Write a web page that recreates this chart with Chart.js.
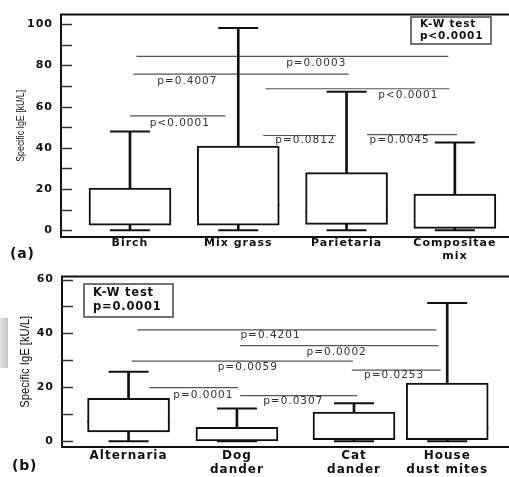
<!DOCTYPE html>
<html lang="en">
  <head>
    <meta charset="UTF-8" />
    <title>Specific IgE box plots</title>
    <style>
      body { margin: 0; background: #fff; }
      .panel { position: absolute; left: 0; }
      #mark { position: absolute; left: 0; top: 318px; width: 8px; height: 50px;
              background: linear-gradient(to right, #e4e4e4, #c4c4c4); }
    </style>
  </head>
  <body>
    <canvas id="chartA" class="panel" style="top:0" width="509" height="262"></canvas>
    <canvas id="chartB" class="panel" style="top:262px" width="509" height="215"></canvas>
    <div id="mark"></div>
    <script src="https://cdn.jsdelivr.net/npm/chart.js"></script>
    <script>
      // (a) pollen
      const catsA = ["Birch", "Mix grass", "Parietaria", ["Compositae", "mix"]];
      const posA = [1, 2, 3, 4];
      const minA = [0, 0, 0, 0];
      const q1A = [2.4, 2.4, 2.8, 0.9];
      const medA = [8.6, 12.3, 8.6, 4.3];
      const q3A = [20.4, 40.8, 28, 17.6];
      const maxA = [47.9, 98.2, 67.2, 42.6];
      const yTicksA = [0, 10, 20, 30, 40, 50, 60, 70, 80, 90, 100];
      // pairwise comparisons: line start / end (category units), height, p text
      const sigFromA = [1.06, 1.03, 2.25, 1.0, 2.23, 3.19];
      const sigToA = [3.94, 3.02, 3.95, 1.88, 2.9, 4.02];
      const sigYA = [84.4, 75.8, 68.7, 55.5, 46, 46.4];
      const sigTextA = ["p=0.0003", "p=0.4007", "p<0.0001", "p<0.0001", "p=0.0812", "p=0.0045"];
      const kwA = ["K-W test", "p<0.0001"];

      // (b) animals / mould / mites
      const catsB = ["Alternaria", ["Dog", "dander"], ["Cat", "dander"], ["House", "dust mites"]];
      const posB = [1, 2.0, 3.08, 3.94];
      const minB = [0, 0, 0, 0];
      const q1B = [3.4, 0.1, 0.6, 0.6];
      const medB = [7.1, 0.5, 1.9, 4.8];
      const q3B = [15.9, 5.1, 10.8, 21.6];
      const maxB = [25.8, 12.1, 14.1, 51.3];
      const yTicksB = [0, 10, 20, 30, 40, 50, 60];
      const sigFromB = [1.08, 2.03, 1.03, 3.06, 1.19, 2.03];
      const sigToB = [3.84, 3.86, 3.07, 3.88, 2.01, 3.11];
      const sigYB = [41.3, 35.5, 29.7, 26.4, 19.9, 16.9];
      const sigTextB = ["p=0.4201", "p=0.0002", "p=0.0059", "p=0.0253", "p=0.0001", "p=0.0307"];
      const kwB = ["K-W test", "p=0.0001"];

      // where the p texts sit (x in category units, y in kU/L)
      const pAtA = [[2.72, 81], [1.53, 72.5], [3.57, 65.4], [1.46, 52.1], [2.62, 43.6], [3.49, 43.6]];
      const pAtB = [[2.31, 39.3], [2.92, 33.1], [2.1, 27.3], [3.45, 24.4], [1.69, 16.9], [2.52, 14.7]];

      const panelPlugin = {
        id: "panel",
        beforeDraw(chart) {
          chart.ctx.letterSpacing = "1px";
        },
        afterDatasetsDraw(chart, args, o) {
          const { ctx, chartArea: a } = chart;
          const x = chart.scales.x, y = chart.scales.y;
          ctx.save();
          // frame (no right side)
          ctx.strokeStyle = "#111";
          ctx.lineWidth = 2;
          ctx.beginPath();
          ctx.moveTo(a.right, a.top);
          ctx.lineTo(a.left, a.top);
          ctx.lineTo(a.left, a.bottom);
          ctx.lineTo(a.right, a.bottom);
          ctx.stroke();
          // tick marks pointing inside
          ctx.lineWidth = 1.5;
          ctx.strokeStyle = "#333";
          y.ticks.forEach((t) => {
            const py = Math.round(y.getPixelForValue(t.value)) + 0.5;
            ctx.beginPath();
            ctx.moveTo(a.left, py);
            ctx.lineTo(a.left + 11, py);
            ctx.stroke();
          });
          // p values
          ctx.fillStyle = "#333";
          ctx.font = '10.5px "DejaVu Sans"';
          ctx.textAlign = "center";
          ctx.textBaseline = "middle";
          ctx.letterSpacing = "1px";
          o.pText.forEach((s, i) => {
            ctx.fillText(s, x.getPixelForValue(o.pAt[i][0]), y.getPixelForValue(o.pAt[i][1]));
          });
          // K-W box
          const k = o.kwBox;
          ctx.strokeStyle = "#444";
          ctx.lineWidth = 1.5;
          ctx.strokeRect(k[0], k[1], k[2], k[3]);
          ctx.fillStyle = "#111";
          ctx.font = 'bold ' + o.kwSize + 'px "DejaVu Sans"';
          ctx.textAlign = "left";
          ctx.letterSpacing = "0.8px";
          ctx.fillText(o.kw[0], k[0] + o.kwPad, k[1] + k[3] * 0.27);
          ctx.fillText(o.kw[1], k[0] + o.kwPad, k[1] + k[3] * 0.71);
          // panel letter
          ctx.font = 'bold 14px "DejaVu Sans"';
          ctx.fillText(o.letter, o.letterAt[0], o.letterAt[1]);
          // y title, squeezed to a narrow face
          const title = "Specific IgE [kU/L]";
          ctx.translate(o.titleX, (a.top + a.bottom) / 2);
          ctx.rotate(-Math.PI / 2);
          ctx.textAlign = "center";
          ctx.letterSpacing = "0px";
          ctx.font = o.titleSize + 'px "Liberation Sans", sans-serif';
          const w = ctx.measureText(title).width;
          ctx.scale(o.titleLen / w, 1);
          ctx.fillText(title, 0, 0);
          ctx.restore();
        },
      };

      function makePanel(id, d) {
        const box = d.pos.map((p, i) => ({ x: p, y: [d.q1[i], d.q3[i]] }));
        const upper = d.pos.map((p, i) => ({ x: p, y: [d.q3[i], d.max[i]] }));
        const lower = d.pos.map((p, i) => ({ x: p, y: [d.min[i], d.q1[i]] }));
        const med = d.pos.map((p, i) => ({ x: p, y: d.med[i] }));
        const caps = d.pos.map((p, i) => ({ x: p, y: d.max[i] }))
          .concat(d.pos.map((p, i) => ({ x: p, y: d.min[i] })));
        const sig = d.sigFrom.map((f, i) => ({
          type: "line",
          data: [{ x: f, y: d.sigY[i] }, { x: d.sigTo[i], y: d.sigY[i] }],
          borderColor: "#555",
          borderWidth: 1.2,
          pointRadius: 0,
        }));
        const whisker = { type: "bar", grouped: false, barThickness: 2, backgroundColor: "#111", borderWidth: 0 };

        return new Chart(document.getElementById(id), {
          type: "bar",
          data: {
            datasets: [
              { ...whisker, data: upper },
              { ...whisker, data: lower },
              {
                type: "bar", data: box, grouped: false, barThickness: 82,
                backgroundColor: "#fff", borderColor: "#111", borderWidth: 2, borderSkipped: false,
              },
              {
                type: "scatter", data: med, pointStyle: "line", pointRadius: 41,
                borderColor: "#111", borderWidth: 2, clip: false,
              },
              {
                type: "scatter", data: caps, pointStyle: "line", pointRadius: 20,
                borderColor: "#111", borderWidth: 2, clip: false,
              },
              ...sig,
            ],
          },
          options: {
            responsive: false,
            animation: false,
            events: [],
            devicePixelRatio: 1,
            layout: { autoPadding: false, padding: { top: 9, left: 0, right: 0, bottom: 0 } },
            plugins: {
              legend: { display: false },
              tooltip: { enabled: false },
              panel: d.panel,
            },
            scales: {
              x: {
                type: "linear",
                offset: false,
                min: d.xMin,
                max: d.xMax,
                grid: { display: false, drawTicks: false },
                border: { display: false },
                afterBuildTicks: (s) => { s.ticks = d.pos.map((v) => ({ value: v })); },
                afterFit: (s) => { s.height = d.xHeight; },
                ticks: {
                  autoSkip: false,
                  maxRotation: 0,
                  padding: d.xPad,
                  color: "#111",
                  font: { family: "DejaVu Sans", weight: "bold", size: d.xFont, lineHeight: 1.15 },
                  callback: (v, i) => d.cats[i],
                },
              },
              y: {
                min: d.yMin,
                max: d.yMax,
                grid: { display: false, drawTicks: false },
                border: { display: false },
                afterBuildTicks: (s) => { s.ticks = d.yTicks.map((v) => ({ value: v })); },
                afterFit: (s) => { s.width = d.yWidth; },
                ticks: {
                  padding: 8,
                  color: "#111",
                  font: { family: "DejaVu Sans", weight: "bold", size: 11 },
                  callback: (v) => (v % 20 === 0 ? v : ""),
                },
              },
            },
          },
          plugins: [panelPlugin],
        });
      }

      makePanel("chartA", {
        cats: catsA, pos: posA, min: minA, q1: q1A, med: medA, q3: q3A, max: maxA,
        yTicks: yTicksA, sigFrom: sigFromA, sigTo: sigToA, sigY: sigYA,
        xMin: 0.363, xMax: 4.5, yMin: -3.3, yMax: 104.7,
        xHeight: 25, yWidth: 61, xPad: 0, xFont: 11,
        panel: {
          pText: sigTextA, pAt: pAtA, kw: kwA, kwBox: [411, 17, 80, 27], kwSize: 10.5, kwPad: 9,
          letter: "(a)", letterAt: [10, 254], titleX: 21, titleSize: 11, titleLen: 72,
        },
      });

      makePanel("chartB", {
        cats: catsB, pos: posB, min: minB, q1: q1B, med: medB, q3: q3B, max: maxB,
        yTicks: yTicksB, sigFrom: sigFromB, sigTo: sigToB, sigY: sigYB,
        xMin: 0.386, xMax: 4.51, yMin: -2.16, yMax: 61.1,
        xHeight: 30, yWidth: 62, xPad: 2, xFont: 12,
        panel: {
          pText: sigTextB, pAt: pAtB, kw: kwB, kwBox: [84, 22, 89, 33], kwSize: 11.5, kwPad: 9,
          letter: "(b)", letterAt: [12, 204], titleX: 25, titleSize: 13.5, titleLen: 92,
        },
      });
    </script>
  </body>
</html>
